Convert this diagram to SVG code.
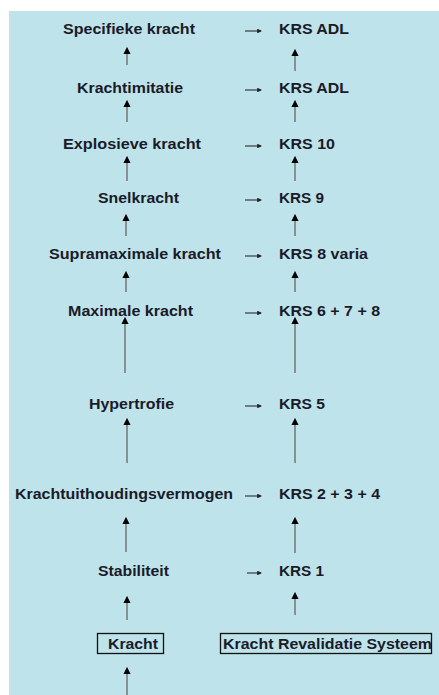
<svg xmlns="http://www.w3.org/2000/svg" width="439" height="695" viewBox="0 0 439 695">
<defs>
<style>
.t{font-family:"Liberation Sans",Arial,sans-serif;font-weight:bold;font-size:14.5px;fill:#1a1a28}
.up{stroke:#6e6e6e;stroke-width:1.4;fill:none;marker-end:url(#ah)}
.rt{stroke:#3a3a3a;stroke-width:1.2;fill:none;marker-end:url(#ah2)}
.box{fill:none;stroke:#111;stroke-width:1.3}
</style>
<marker id="ah" viewBox="0 0 10 10" refX="7" refY="5" markerWidth="5.6" markerHeight="5.2" orient="auto" markerUnits="strokeWidth">
<path d="M0,0 L10,5 L0,10 z" fill="#000"/>
</marker>
<marker id="ah2" viewBox="0 0 10 10" refX="8" refY="5" markerWidth="4" markerHeight="4" orient="auto" markerUnits="strokeWidth">
<path d="M0,0 L10,5 L0,10 z" fill="#222"/>
</marker>
</defs>
<rect x="0" y="0" width="439" height="695" fill="#ffffff"/>
<rect x="9" y="11" width="430" height="684" fill="#bee3ea"/>

<g id="connectors">
<line class="up" x1="127" y1="65" x2="127" y2="49"/>
<line class="up" x1="127" y1="122" x2="127" y2="102"/>
<line class="up" x1="127" y1="181" x2="127" y2="158"/>
<line class="up" x1="126" y1="236" x2="126" y2="216"/>
<line class="up" x1="126" y1="292" x2="126" y2="273"/>
<line class="up" x1="125" y1="373" x2="125" y2="319"/>
<line class="up" x1="127" y1="463" x2="127" y2="420"/>
<line class="up" x1="126" y1="552" x2="126" y2="519"/>
<line class="up" x1="127" y1="620" x2="127" y2="598"/>
<line class="up" x1="127" y1="695" x2="127" y2="669"/>

<line class="up" x1="295" y1="71" x2="295" y2="51"/>
<line class="up" x1="295" y1="122" x2="295" y2="102"/>
<line class="up" x1="295" y1="181" x2="295" y2="158"/>
<line class="up" x1="295" y1="236" x2="295" y2="216"/>
<line class="up" x1="295" y1="292" x2="295" y2="273"/>
<line class="up" x1="295" y1="373" x2="295" y2="319"/>
<line class="up" x1="295" y1="463" x2="295" y2="420"/>
<line class="up" x1="295" y1="553" x2="295" y2="519"/>
<line class="up" x1="295" y1="615" x2="295" y2="594"/>

<line class="rt" x1="245" y1="31" x2="261" y2="31"/>
<line class="rt" x1="245" y1="90" x2="261" y2="90"/>
<line class="rt" x1="245" y1="146" x2="261" y2="146"/>
<line class="rt" x1="245" y1="200" x2="261" y2="200"/>
<line class="rt" x1="245" y1="256" x2="261" y2="256"/>
<line class="rt" x1="245" y1="313" x2="261" y2="313"/>
<line class="rt" x1="245" y1="406" x2="261" y2="406"/>
<line class="rt" x1="245" y1="496" x2="261" y2="496"/>
<line class="rt" x1="247" y1="573" x2="261" y2="573"/>
</g>

<g id="specifieke-kracht"><text class="t" x="63" y="34" textLength="132" lengthAdjust="spacingAndGlyphs">Specifieke kracht</text></g>
<g id="krachtimitatie"><text class="t" x="77" y="93" textLength="106" lengthAdjust="spacingAndGlyphs">Krachtimitatie</text></g>
<g id="explosieve-kracht"><text class="t" x="63" y="149" textLength="138" lengthAdjust="spacingAndGlyphs">Explosieve kracht</text></g>
<g id="snelkracht"><text class="t" x="98" y="203" textLength="81" lengthAdjust="spacingAndGlyphs">Snelkracht</text></g>
<g id="supramaximale-kracht"><text class="t" x="49" y="259" textLength="172" lengthAdjust="spacingAndGlyphs">Supramaximale kracht</text></g>
<g id="maximale-kracht"><text class="t" x="68" y="316" textLength="125" lengthAdjust="spacingAndGlyphs">Maximale kracht</text></g>
<g id="hypertrofie"><text class="t" x="89" y="409" textLength="85" lengthAdjust="spacingAndGlyphs">Hypertrofie</text></g>
<g id="krachtuithoudingsvermogen"><text class="t" x="15" y="499" textLength="218" lengthAdjust="spacingAndGlyphs">Krachtuithoudingsvermogen</text></g>
<g id="stabiliteit"><text class="t" x="98" y="576" textLength="71" lengthAdjust="spacingAndGlyphs">Stabiliteit</text></g>
<g id="kracht"><rect class="box" x="97.5" y="633.5" width="66" height="20"/><text class="t" x="108" y="649" textLength="50" lengthAdjust="spacingAndGlyphs">Kracht</text></g>

<g id="krs-adl-1"><text class="t" x="279" y="34" textLength="70" lengthAdjust="spacingAndGlyphs">KRS ADL</text></g>
<g id="krs-adl-2"><text class="t" x="279" y="93" textLength="70" lengthAdjust="spacingAndGlyphs">KRS ADL</text></g>
<g id="krs-10"><text class="t" x="279" y="149" textLength="56" lengthAdjust="spacingAndGlyphs">KRS 10</text></g>
<g id="krs-9"><text class="t" x="279" y="203" textLength="45" lengthAdjust="spacingAndGlyphs">KRS 9</text></g>
<g id="krs-8-varia"><text class="t" x="279" y="259" textLength="89" lengthAdjust="spacingAndGlyphs">KRS 8 varia</text></g>
<g id="krs-6-7-8"><text class="t" x="279" y="316" textLength="101" lengthAdjust="spacingAndGlyphs">KRS 6 + 7 + 8</text></g>
<g id="krs-5"><text class="t" x="279" y="409" textLength="46" lengthAdjust="spacingAndGlyphs">KRS 5</text></g>
<g id="krs-2-3-4"><text class="t" x="279" y="499" textLength="101" lengthAdjust="spacingAndGlyphs">KRS 2 + 3 + 4</text></g>
<g id="krs-1"><text class="t" x="279" y="576" textLength="45" lengthAdjust="spacingAndGlyphs">KRS 1</text></g>
<g id="kracht-revalidatie-systeem"><rect class="box" x="220.5" y="633.5" width="211" height="20"/><text class="t" x="223" y="649" textLength="209" lengthAdjust="spacingAndGlyphs">Kracht Revalidatie Systeem</text></g>
</svg>
